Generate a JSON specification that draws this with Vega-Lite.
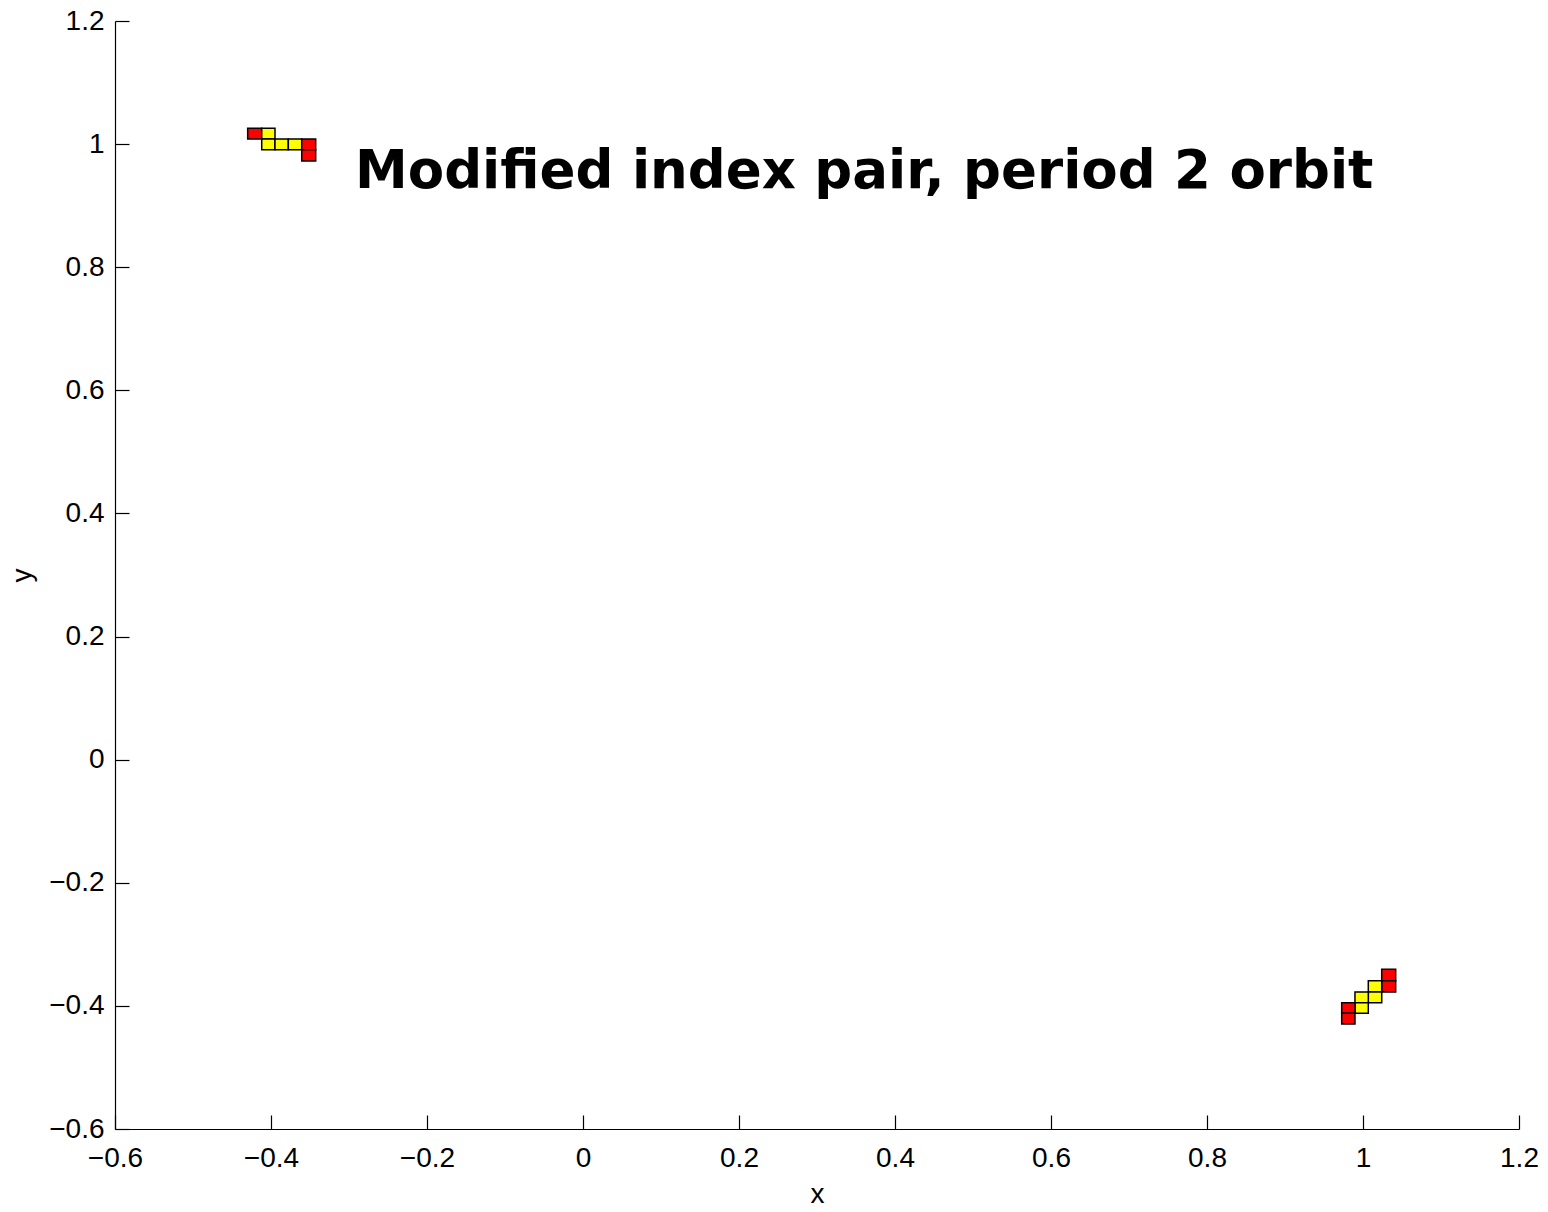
{
  "$schema": "https://vega.github.io/schema/vega-lite/v6.json",
  "autosize": {"type": "none"},
  "padding": {"left": 115, "top": 21, "right": 29, "bottom": 83},
  "width": 1404,
  "height": 1108,
  "background": "white",
  "config": {
    "view": {"stroke": null},
    "axis": {
      "grid": false,
      "domainColor": "black",
      "domainWidth": 1.2,
      "tickColor": "black",
      "tickWidth": 1.2,
      "tickSize": -14,
      "labelFont": "Liberation Sans",
      "labelFontSize": 28,
      "labelColor": "black",
      "titleFont": "Liberation Sans",
      "titleFontSize": 28,
      "titleFontWeight": "normal",
      "titleColor": "black",
      "labelFlush": false,
      "labelOverlap": false,
      "format": "~g"
    }
  },
  "layer": [
    {
      "data": {
        "values": [
          {"x1": -0.4299, "x2": -0.4119, "y1": 1.0083, "y2": 1.0257, "c": "red"},
          {"x1": -0.4119, "x2": -0.3949, "y1": 1.0083, "y2": 1.0257, "c": "yellow"},
          {"x1": -0.4119, "x2": -0.3949, "y1": 0.9909, "y2": 1.0083, "c": "yellow"},
          {"x1": -0.3949, "x2": -0.3778, "y1": 0.9909, "y2": 1.0083, "c": "yellow"},
          {"x1": -0.3778, "x2": -0.3606, "y1": 0.9909, "y2": 1.0083, "c": "yellow"},
          {"x1": -0.3606, "x2": -0.3427, "y1": 0.9909, "y2": 1.0083, "c": "red"},
          {"x1": -0.3606, "x2": -0.3427, "y1": 0.9726, "y2": 0.9909, "c": "red"},
          {"x1": 1.0240, "x2": 1.0419, "y1": -0.3590, "y2": -0.3405, "c": "red"},
          {"x1": 1.0240, "x2": 1.0419, "y1": -0.3773, "y2": -0.3590, "c": "red"},
          {"x1": 1.0068, "x2": 1.0240, "y1": -0.3773, "y2": -0.3590, "c": "yellow"},
          {"x1": 1.0068, "x2": 1.0240, "y1": -0.3947, "y2": -0.3773, "c": "yellow"},
          {"x1": 0.9897, "x2": 1.0068, "y1": -0.3947, "y2": -0.3773, "c": "yellow"},
          {"x1": 0.9897, "x2": 1.0068, "y1": -0.4119, "y2": -0.3947, "c": "yellow"},
          {"x1": 0.9727, "x2": 0.9897, "y1": -0.4119, "y2": -0.3947, "c": "red"},
          {"x1": 0.9727, "x2": 0.9897, "y1": -0.4293, "y2": -0.4119, "c": "red"}
        ]
      },
      "mark": {"type": "rect", "stroke": "black", "strokeWidth": 1.5},
      "encoding": {
        "x": {"field": "x1", "type": "quantitative", "scale": {"domain": [-0.6, 1.2], "nice": false, "zero": false}, "axis": {"title": "x", "values": [-0.6, -0.4, -0.2, 0, 0.2, 0.4, 0.6, 0.8, 1, 1.2], "labelPadding": 29, "titlePadding": 8}},
        "x2": {"field": "x2"},
        "y": {"field": "y1", "type": "quantitative", "scale": {"domain": [-0.6, 1.2], "nice": false, "zero": false}, "axis": {"title": "y", "values": [-0.6, -0.4, -0.2, 0, 0.2, 0.4, 0.6, 0.8, 1, 1.2], "labelPadding": 25, "titlePadding": 12}},
        "y2": {"field": "y2"},
        "fill": {"field": "c", "type": "nominal", "scale": {"domain": ["red", "yellow"], "range": ["#ff0000", "#ffff00"]}, "legend": null}
      }
    },
    {
      "data": {"values": [{"tx": -0.2923, "ty": 0.9287, "label": "Modified index pair, period 2 orbit"}]},
      "mark": {"type": "text", "align": "left", "baseline": "alphabetic", "font": "DejaVu Sans", "fontWeight": "bold", "fontSize": 53, "color": "black"},
      "encoding": {
        "x": {"field": "tx", "type": "quantitative"},
        "y": {"field": "ty", "type": "quantitative"},
        "text": {"field": "label"}
      }
    }
  ]
}
